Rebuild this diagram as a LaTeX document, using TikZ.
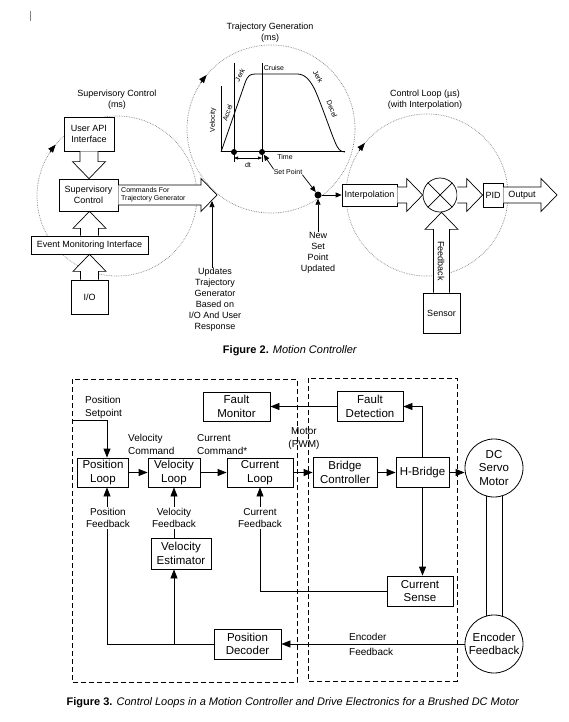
\documentclass[tikz,border=0pt]{standalone}
\usepackage{fontspec}
\setmainfont{Liberation Sans}
\usetikzlibrary{arrows.meta,calc}

% hollow block arrows, #1 = half width of the shaft
\newcommand{\blockup}[3][9]{%
  \draw[blockarrow] let \p1=(#2), \p2=(#3) in
    (\x1-#1pt,\y1) -- (\x1-#1pt,\y2-17pt) -- (\x1-16.5pt,\y2-17pt) -- (\x1,\y2)
    -- (\x1+16.5pt,\y2-17pt) -- (\x1+#1pt,\y2-17pt) -- (\x1+#1pt,\y1);}
\newcommand{\blockdown}[3][9]{%
  \draw[blockarrow] let \p1=(#2), \p2=(#3) in
    (\x1-#1pt,\y1) -- (\x1-#1pt,\y2+17pt) -- (\x1-16.5pt,\y2+17pt) -- (\x1,\y2)
    -- (\x1+16.5pt,\y2+17pt) -- (\x1+#1pt,\y2+17pt) -- (\x1+#1pt,\y1);}
\newcommand{\blockright}[3][8]{%
  \draw[blockarrow] let \p1=(#2), \p2=(#3) in
    (\x1,\y1+#1pt) -- (\x2-16pt,\y1+#1pt) -- (\x2-16pt,\y1+16.5pt) -- (\x2,\y1)
    -- (\x2-16pt,\y1-16.5pt) -- (\x2-16pt,\y1-#1pt) -- (\x1,\y1-#1pt);}

\begin{document}
\begin{tikzpicture}[x=1pt, y=-1pt,
  fig2box/.style={draw, fill=white, line width=0.7pt, inner sep=0pt, align=center, font=\fontsize{9}{10.5}\selectfont},
  ctlbox/.style={draw, fill=white, line width=0.8pt, inner sep=0pt, align=center, font=\fontsize{11.5}{13.5}\selectfont},
  ctlcircle/.style={draw, fill=white, circle, line width=0.8pt, inner sep=0pt, minimum size=58, align=center, font=\fontsize{11.5}{13.5}\selectfont},
  loopring/.style={densely dotted, gray, line width=0.7pt},
  looptip/.style={-{Triangle[length=8pt,width=6pt]}, line width=0.7pt},
  blockarrow/.style={draw, fill=white, line width=0.7pt},
  toplbl/.style={align=center, font=\fontsize{9}{11}\selectfont, inner sep=0pt},
  graphlbl/.style={font=\fontsize{7}{8}\selectfont, inner sep=0pt},
  thinarrow/.style={-{Triangle[length=6pt,width=5pt]}, line width=0.7pt},
  sig/.style={-{Triangle[length=9pt,width=7pt]}, line width=0.8pt},
  sigline/.style={line width=0.8pt},
  sublbl/.style={align=center, font=\fontsize{10}{12.3}\selectfont, inner sep=1pt},
  region/.style={dash pattern=on 5pt off 3pt, line width=0.7pt},
  caption/.style={font=\fontsize{11}{13}\selectfont, inner sep=0pt}
]
\useasboundingbox (0,0) rectangle (568,722);

% stray mark
\draw[gray, line width=0.6pt] (30,11) -- (30,21);

% Loop rings
\coordinate (supc) at (117,196);
\coordinate (trjc) at (271,129);
\coordinate (ctlc) at (427,195);
\draw[loopring] (supc) circle[radius=80];
\draw[loopring] (trjc) circle[radius=84];
\draw[loopring] (ctlc) circle[radius=81];
\draw[looptip] (supc) ++(213:80) arc[start angle=213, end angle=220, radius=80];
\draw[looptip] (trjc) ++(213:84) arc[start angle=213, end angle=220, radius=84];
\draw[looptip] (ctlc) ++(213:81) arc[start angle=213, end angle=220, radius=81];

% Supervisory Control
\node[toplbl] (suplbl) at (117,100) {Supervisory Control\\(ms)};
\node[fig2box, minimum width=50, minimum height=34] (userapi) at (89,134) {User API\\Interface};
\node[fig2box, minimum width=59, minimum height=32] (supctl) at (88.5,195) {Supervisory\\Control};
\node[fig2box, minimum width=117, minimum height=18] (evmon) at (89.5,245) {Event Monitoring Interface};
\node[fig2box, minimum width=37, minimum height=34] (io) at (89.5,297) {I/O};
\blockdown{userapi.south}{supctl.north}
\blockup{evmon.north}{supctl.south}
\blockup{io.north}{evmon.south}
\coordinate (trajin) at (217,195);
\blockright[10]{supctl.east}{trajin}
\node[font=\fontsize{7}{8}\selectfont, align=left, anchor=west, inner sep=0pt] (cmdtxt) at (121,195) {Commands For\\Trajectory Generator};

% Trajectory Generation
\node[toplbl] (trjlbl) at (270,33) {Trajectory Generation\\(ms)};
\draw[line width=1pt] (221,86) -- (221,152) -- (345,152);
\draw[line width=1pt] (234,63) -- (234,162);
\draw[line width=1pt] (262,63) -- (262,162);
\draw[line width=0.8pt] (221,152) -- (245,83) .. controls (248,75) and (250,74) .. (256,74)
  -- (297,74) .. controls (305,74) and (310,80) .. (315,90)
  .. controls (322,106) and (330,130) .. (335,142) .. controls (338,149) and (340,152) .. (345,152);
\node[fill, circle, inner sep=0pt, minimum size=6] (dot1) at (234,152) {};
\node[fill, circle, inner sep=0pt, minimum size=6] (dot2) at (262,152) {};
\draw[{Triangle[length=4pt,width=3pt]}-{Triangle[length=4pt,width=3pt]}, line width=0.6pt] ($(dot1)+(0,6)$) -- ($(dot2)+(0,6)$);
\node[graphlbl] (dtlbl) at (248,165) {dt};
\node[graphlbl, rotate=90] (vellbl) at (213,120) {Velocity};
\node[graphlbl, rotate=71] (acclbl) at (227.5,113) {Accel};
\node[graphlbl, rotate=62] (jerkup) at (240,75) {Jerk};
\node[graphlbl] (cruise) at (274,68) {Cruise};
\node[graphlbl, rotate=-60] (jerkdown) at (318,77) {Jerk};
\node[graphlbl, rotate=-68] (decel) at (332,109) {Decel};
\node[graphlbl] (timelbl) at (285,157) {Time};
\node[graphlbl] (setpt) at (288,172) {Set Point};
\node[fill, circle, inner sep=0pt, minimum size=7] (newsp) at (318,195) {};
\draw[thinarrow] (setpt.north west) -- (dot2);
\draw[thinarrow] (setpt.south east) -- (newsp);
\node[toplbl] (newlbl) at (318,253) {New\\Set\\Point\\Updated};
\draw[thinarrow] (newlbl.north) -- (newsp);
\node[toplbl] (updlbl) at (215,300) {Updates\\Trajectory\\Generator\\Based on\\I/O And User\\Response};
\coordinate (cmdedge) at (212,201);
\draw[thinarrow] (updlbl.north -| cmdedge) -- (cmdedge);

% Control Loop
\node[toplbl] (ctllbl) at (425,100) {Control Loop (µs)\\(with Interpolation)};
\node[fig2box, minimum width=55, minimum height=22] (interp) at (369.5,195) {Interpolation};
\draw[thinarrow] (newsp) -- (interp.west);
\node[draw, fill=white, circle, inner sep=0pt, minimum size=34, line width=0.7pt] (sum) at (440,195) {};
\draw[line width=0.7pt] (sum.45) -- (sum.225) (sum.135) -- (sum.315);
\node[fig2box, minimum width=20, minimum height=24] (pid) at (493,195) {PID};
\node[fig2box, minimum width=37, minimum height=40] (sensor) at (441.5,313) {Sensor};
\coordinate (outtip) at (557,195);
\blockright{interp.east}{sum.west}
\blockright{sum.east}{pid.west}
\blockright{pid.east}{outtip}
\node[inner sep=0pt, font=\fontsize{9}{10}\selectfont] (outlbl) at (522,195) {Output};
\blockup[8]{sensor.north}{sum.south}
\node[rotate=-90, inner sep=0pt, font=\fontsize{9}{10}\selectfont] (fblbl) at (441,261) {Feedback};

\node[caption] (fig2cap) at (290,351) {\textbf{Figure 2.} \textit{Motion Controller}};

% Controller and drive electronics
\draw[region] (72,379) rectangle (297,682);
\draw[region] (308,378) rectangle (457,681);

\node[ctlbox, minimum width=67, minimum height=29] (faultmon) at (236.5,406.5) {Fault\\Monitor};
\node[ctlbox, minimum width=66, minimum height=30] (faultdet) at (370,406.5) {Fault\\Detection};
\node[ctlbox, minimum width=51, minimum height=29] (posloop) at (103,472.5) {Position\\Loop};
\node[ctlbox, minimum width=52, minimum height=29] (velloop) at (174,472.5) {Velocity\\Loop};
\node[ctlbox, minimum width=66, minimum height=29] (curloop) at (260,472.5) {Current\\Loop};
\node[ctlbox, minimum width=64, minimum height=30] (bridge) at (345,472.5) {Bridge\\Controller};
\node[ctlbox, minimum width=53, minimum height=30] (hbridge) at (422.5,472.5) {H-Bridge};
\node[ctlcircle] (motor) at (494,468) {DC\\Servo\\Motor};
\node[ctlbox, minimum width=60, minimum height=31] (velest) at (181,553.5) {Velocity\\Estimator};
\node[ctlbox, minimum width=66, minimum height=30] (cursense) at (420,591) {Current\\Sense};
\node[ctlbox, minimum width=67, minimum height=30] (posdec) at (247.5,644) {Position\\Decoder};
\node[ctlcircle] (encoder) at (494,644) {Encoder\\Feedback};

% Signal paths
\coordinate (spin) at (72,420);
\draw[sig] (spin) -| ([xshift=4pt]posloop.north);
\draw[sig] (posloop.east) -- (velloop.west);
\draw[sig] (velloop.east) -- (curloop.west);
\draw[sig] (curloop.east) -- (bridge.west);
\draw[sig] (bridge.east) -- (hbridge.west);
\draw[sig] (hbridge.east) -- (hbridge.east -| motor.west);
\draw[sig] (hbridge.north) |- (faultdet.east);
\draw[sig] (faultdet.west) -- (faultmon.east);
\draw[sig] (hbridge.south) -- (hbridge.south |- cursense.north);
\draw[sig] (cursense.west) -| (curloop.south);
\draw[sig] (posdec.west) -| ([xshift=4pt]posloop.south);
\draw[sig] (velloop.south |- posdec.west) -- (velloop.south |- velest.south);
\draw[sig] (velloop.south |- velest.north) -- (velloop.south);
\draw[sig] (encoder.west) -- (posdec.east);
\draw[sigline] (motor.-106) -- (encoder.106);
\draw[sigline] (motor.-74) -- (encoder.74);

% Signal labels
\node[sublbl, align=left, anchor=west] (setlbl) at (84,407.5) {Position\\Setpoint};
\node[sublbl, align=left, anchor=west] (velcmd) at (127,444.5) {Velocity\\Command};
\node[sublbl, align=left, anchor=west] (curcmd) at (196,444.5) {Current\\Command*};
\node[sublbl] (pwmlbl) at (304,438.5) {Motor\\(PWM)};
\node[sublbl, fill=white] (posfb) at (108,518) {Position\\Feedback};
\node[sublbl, fill=white] (velfb) at (174,518) {Velocity\\Feedback};
\node[sublbl, fill=white] (curfb) at (260,518) {Current\\Feedback};
\node[sublbl, align=left, anchor=west] (encfb) at (348,644.5) {Encoder\\[3pt]Feedback};

\node[caption] (fig3cap) at (293,703) {\textbf{Figure 3.} \textit{Control Loops in a Motion Controller and Drive Electronics for a Brushed DC Motor}};

\end{tikzpicture}
\end{document}
